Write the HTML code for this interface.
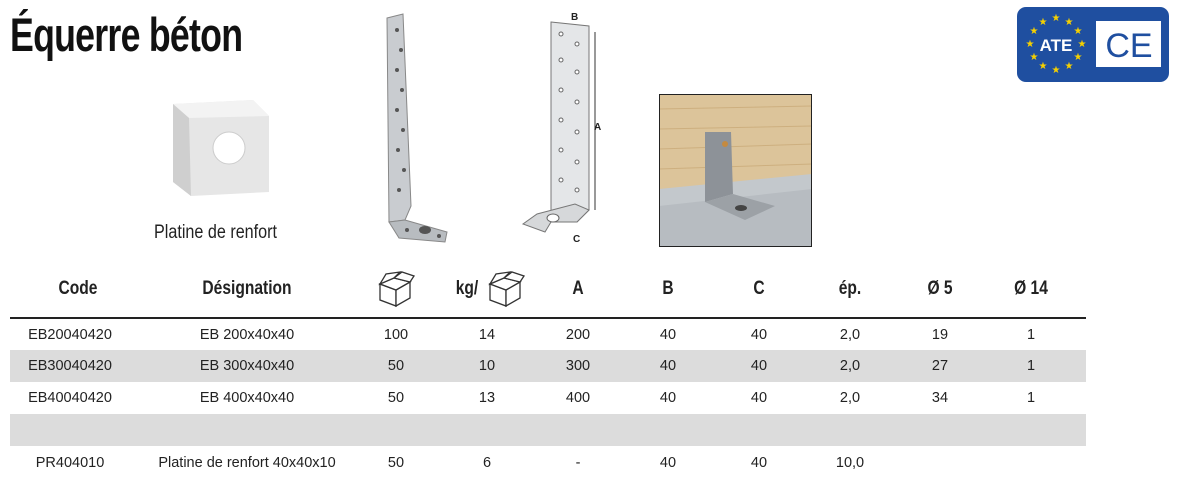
<!DOCTYPE html>
<html><head><meta charset="utf-8"><style>
body{margin:0;width:1178px;height:482px;background:#fff;position:relative;overflow:hidden;font-family:"Liberation Sans",sans-serif;color:#222}
.t{position:absolute;white-space:nowrap}
.title{left:10px;top:7px;font-size:47px;font-weight:bold;transform:scaleX(0.76);transform-origin:left top;letter-spacing:-1px;color:#111}
.c{position:absolute;transform:translateX(-50%);white-space:nowrap;font-size:14.5px;font-family:"Liberation Sans Narrow","Liberation Sans",sans-serif}
.h{font-size:19px;font-weight:bold;transform:translateX(-50%) scaleX(0.82)}
</style></head><body>
<div class="t title">Équerre béton</div>

<svg style="position:absolute;left:165px;top:96px" width="110" height="110">
<polygon points="8,8 88,4 104,20 104,96 26,100 8,86" fill="#e6e6e6"/>
<polygon points="8,8 88,4 104,20 24,22" fill="#f3f3f3"/>
<polygon points="8,8 24,22 26,100 8,86" fill="#cfcfcf"/>
<ellipse cx="64" cy="52" rx="16" ry="16" fill="#fff" stroke="#ccc"/>
</svg>
<div class="t" style="left:154px;top:222px;font-size:19px;transform:scaleX(0.85);transform-origin:left top">Platine de renfort</div>

<svg style="position:absolute;left:375px;top:10px" width="90" height="235">
<polygon points="12,8 28,4 36,196 30,210 14,212" fill="#c9ccd0" stroke="#888"/>
<polygon points="14,212 30,210 72,222 70,232 24,228" fill="#b8bcc0" stroke="#888"/>
<g fill="#555">
<circle cx="22" cy="20" r="2"/><circle cx="26" cy="40" r="2"/><circle cx="22" cy="60" r="2"/><circle cx="27" cy="80" r="2"/><circle cx="22" cy="100" r="2"/><circle cx="28" cy="120" r="2"/><circle cx="23" cy="140" r="2"/><circle cx="29" cy="160" r="2"/><circle cx="24" cy="180" r="2"/>
<ellipse cx="50" cy="220" rx="6" ry="4"/><circle cx="32" cy="220" r="2"/><circle cx="64" cy="226" r="2"/>
</g></svg>

<svg style="position:absolute;left:515px;top:10px" width="100" height="235">
<polygon points="36,12 74,16 74,200 62,212 36,212" fill="#e4e6e8" stroke="#777"/>
<polygon points="36,212 62,212 74,200 60,194 22,204 8,214 30,222" fill="#d6d8da" stroke="#777"/>
<g fill="#fff" stroke="#666">
<circle cx="46" cy="24" r="2"/><circle cx="62" cy="34" r="2"/><circle cx="46" cy="50" r="2"/><circle cx="62" cy="62" r="2"/><circle cx="46" cy="80" r="2"/><circle cx="62" cy="92" r="2"/><circle cx="46" cy="110" r="2"/><circle cx="62" cy="122" r="2"/><circle cx="46" cy="140" r="2"/><circle cx="62" cy="152" r="2"/><circle cx="46" cy="170" r="2"/><circle cx="62" cy="180" r="2"/>
<ellipse cx="38" cy="208" rx="6" ry="4"/>
</g>
<line x1="80" y1="22" x2="80" y2="200" stroke="#333"/>
<text x="79" y="120" font-size="10" font-weight="bold" fill="#222">A</text>
<text x="56" y="10" font-size="10" font-weight="bold" fill="#222">B</text>
<text x="58" y="232" font-size="10" font-weight="bold" fill="#222">C</text>
</svg>

<svg style="position:absolute;left:659px;top:94px" width="153" height="153">
<rect x="0" y="0" width="153" height="153" fill="#dcc49a"/>
<g stroke="#c7a774" stroke-width="1" opacity="0.7">
<line x1="0" y1="15" x2="153" y2="12"/><line x1="0" y1="35" x2="153" y2="32"/><line x1="0" y1="55" x2="153" y2="50"/><line x1="0" y1="75" x2="153" y2="70"/></g>
<polygon points="0,95 153,80 153,153 0,153" fill="#c3c8cc"/>
<polygon points="0,112 153,95 153,153 0,153" fill="#b7bcc1"/>
<rect x="0.5" y="0.5" width="152" height="152" fill="none" stroke="#222"/>
<polygon points="46,38 72,38 74,100 46,108" fill="#8d9298"/>
<polygon points="46,108 74,100 116,112 86,126" fill="#9ca1a6"/>
<circle cx="66" cy="50" r="3" fill="#c48a40"/>
<ellipse cx="82" cy="114" rx="6" ry="3" fill="#444"/>
</svg>

<svg style="position:absolute;left:1017px;top:7px" width="152" height="76">
<rect x="0" y="0" width="152" height="75" rx="9" fill="#1f4fa0"/>
<rect x="79" y="14" width="65" height="46" fill="#fff"/>
<text x="112" y="50" font-size="34" fill="#1f4fa0" text-anchor="middle" font-family="Liberation Sans">CE</text>
<text x="39" y="44" font-size="17" font-weight="bold" fill="#fff" text-anchor="middle">ATE</text>
<g fill="#f5d000" font-size="10" text-anchor="middle">
<text x="39" y="14">★</text><text x="52" y="18">★</text><text x="61" y="27">★</text><text x="65" y="40">★</text><text x="61" y="53">★</text><text x="52" y="62">★</text><text x="39" y="66">★</text><text x="26" y="62">★</text><text x="17" y="53">★</text><text x="13" y="40">★</text><text x="17" y="27">★</text><text x="26" y="18">★</text>
</g></svg>

<div style="position:absolute;left:10px;top:317px;width:1076px;height:2px;background:#222"></div>
<div style="position:absolute;left:10px;top:350px;width:1076px;height:32px;background:#dcdcdc"></div>
<div style="position:absolute;left:10px;top:414px;width:1076px;height:32px;background:#dcdcdc"></div>

<div style="position:absolute;left:0;top:278px;width:1178px">
<div class="c h" style="left:78px">Code</div>
<div class="c h" style="left:247px">Désignation</div>
<div class="c h" style="left:467px">kg/</div>
<div class="c h" style="left:578px">A</div>
<div class="c h" style="left:668px">B</div>
<div class="c h" style="left:759px">C</div>
<div class="c h" style="left:850px">ép.</div>
<div class="c h" style="left:940px">Ø 5</div>
<div class="c h" style="left:1031px">Ø 14</div>
</div>
<svg style="position:absolute;left:376px;top:270px" width="40" height="40"><g fill="#fff" stroke="#333" stroke-width="1.3"><polygon points="4,14 20,20 20,36 4,30"/><polygon points="20,20 34,12 34,28 20,36"/><polygon points="4,14 18,8 34,12 20,20"/><polygon points="4,14 10,4 24,2 18,8"/><polygon points="18,8 26,2 38,6 34,12"/></g></svg>
<svg style="position:absolute;left:486px;top:270px" width="40" height="40"><g fill="#fff" stroke="#333" stroke-width="1.3"><polygon points="4,14 20,20 20,36 4,30"/><polygon points="20,20 34,12 34,28 20,36"/><polygon points="4,14 18,8 34,12 20,20"/><polygon points="4,14 10,4 24,2 18,8"/><polygon points="18,8 26,2 38,6 34,12"/></g></svg>

<div style="position:absolute;left:0;top:327px;width:1178px">
<div class="c" style="left:70px">EB20040420</div><div class="c" style="left:247px">EB 200x40x40</div><div class="c" style="left:396px">100</div><div class="c" style="left:487px">14</div><div class="c" style="left:578px">200</div><div class="c" style="left:668px">40</div><div class="c" style="left:759px">40</div><div class="c" style="left:850px">2,0</div><div class="c" style="left:940px">19</div><div class="c" style="left:1031px">1</div>
</div>
<div style="position:absolute;left:0;top:358px;width:1178px">
<div class="c" style="left:70px">EB30040420</div><div class="c" style="left:247px">EB 300x40x40</div><div class="c" style="left:396px">50</div><div class="c" style="left:487px">10</div><div class="c" style="left:578px">300</div><div class="c" style="left:668px">40</div><div class="c" style="left:759px">40</div><div class="c" style="left:850px">2,0</div><div class="c" style="left:940px">27</div><div class="c" style="left:1031px">1</div>
</div>
<div style="position:absolute;left:0;top:390px;width:1178px">
<div class="c" style="left:70px">EB40040420</div><div class="c" style="left:247px">EB 400x40x40</div><div class="c" style="left:396px">50</div><div class="c" style="left:487px">13</div><div class="c" style="left:578px">400</div><div class="c" style="left:668px">40</div><div class="c" style="left:759px">40</div><div class="c" style="left:850px">2,0</div><div class="c" style="left:940px">34</div><div class="c" style="left:1031px">1</div>
</div>
<div style="position:absolute;left:0;top:455px;width:1178px">
<div class="c" style="left:70px">PR404010</div><div class="c" style="left:247px">Platine de renfort 40x40x10</div><div class="c" style="left:396px">50</div><div class="c" style="left:487px">6</div><div class="c" style="left:578px">-</div><div class="c" style="left:668px">40</div><div class="c" style="left:759px">40</div><div class="c" style="left:850px">10,0</div>
</div>
</body></html>
